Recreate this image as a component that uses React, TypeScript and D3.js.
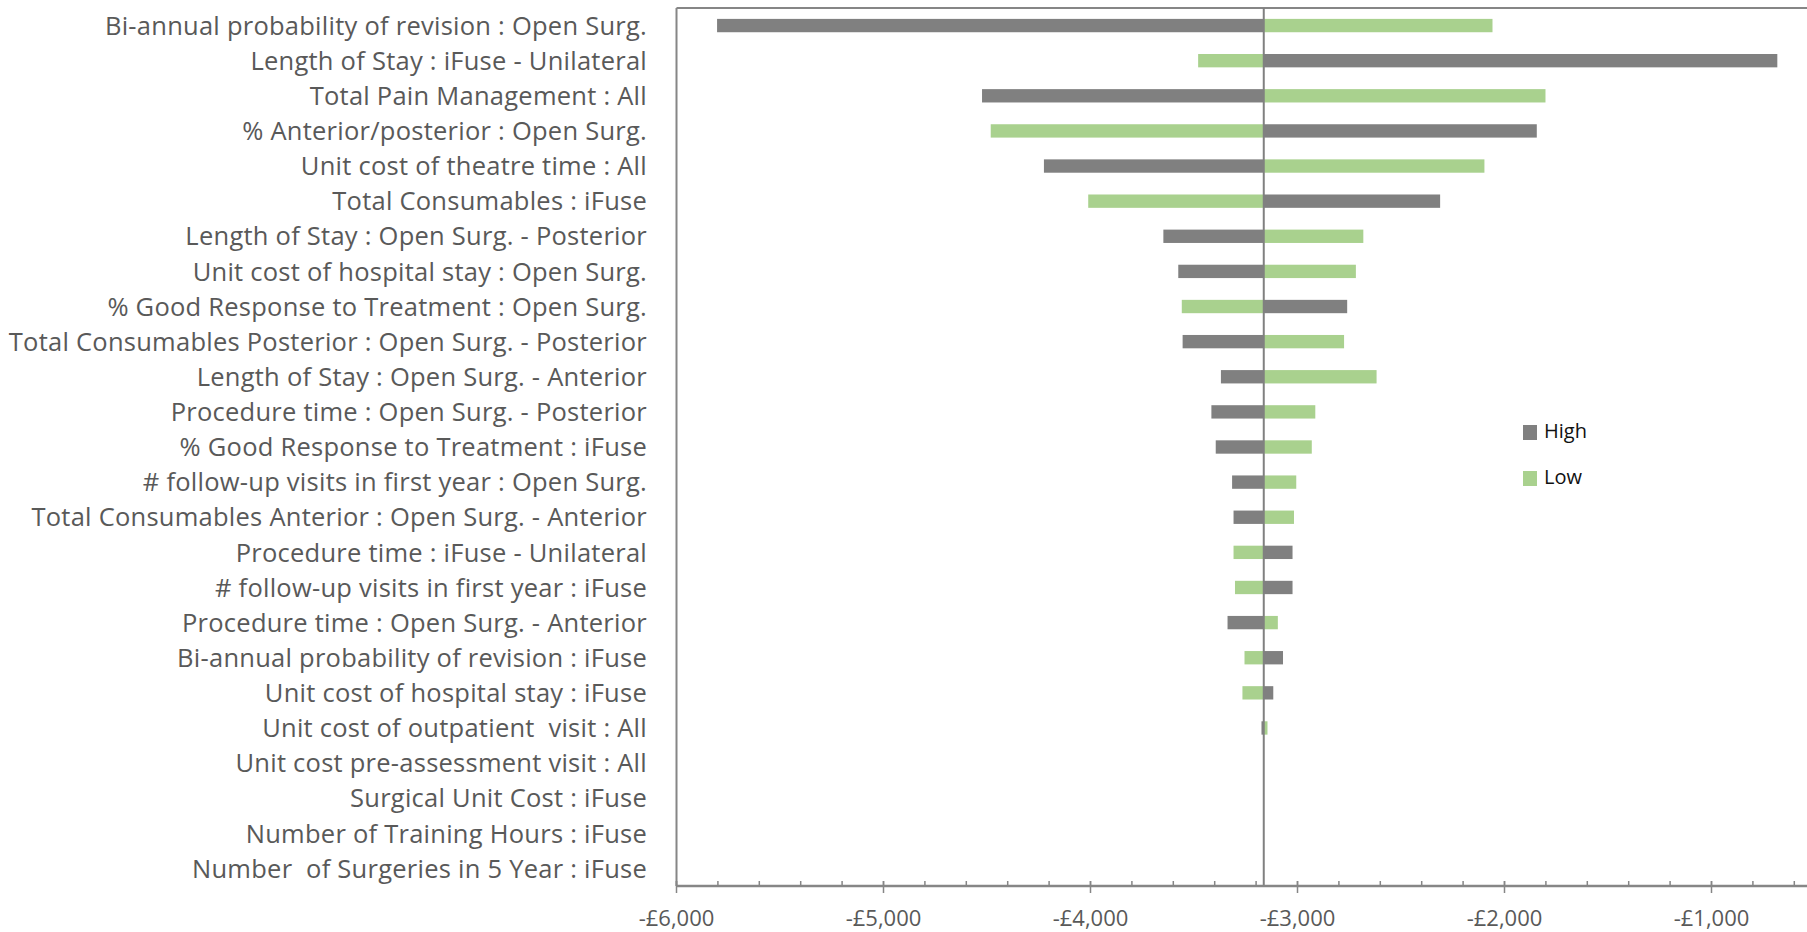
import React from "react";
import * as d3 from "d3";

const categories: string[] = [
  "Bi-annual probability of revision : Open Surg.",
  "Length of Stay : iFuse - Unilateral",
  "Total Pain Management : All",
  "% Anterior/posterior : Open Surg.",
  "Unit cost of theatre time : All",
  "Total Consumables : iFuse",
  "Length of Stay : Open Surg. - Posterior",
  "Unit cost of hospital stay : Open Surg.",
  "% Good Response to Treatment : Open Surg.",
  "Total Consumables Posterior : Open Surg. - Posterior",
  "Length of Stay : Open Surg. - Anterior",
  "Procedure time : Open Surg. - Posterior",
  "% Good Response to Treatment : iFuse",
  "# follow-up visits in first year : Open Surg.",
  "Total Consumables Anterior : Open Surg. - Anterior",
  "Procedure time : iFuse - Unilateral",
  "# follow-up visits in first year : iFuse",
  "Procedure time : Open Surg. - Anterior",
  "Bi-annual probability of revision : iFuse",
  "Unit cost of hospital stay : iFuse",
  "Unit cost of outpatient  visit : All",
  "Unit cost pre-assessment visit : All",
  "Surgical Unit Cost : iFuse",
  "Number of Training Hours : iFuse",
  "Number  of Surgeries in 5 Year : iFuse",
];

const baseValue = -3163;

const highValues: number[] = [
  -5804, -682, -4524, -1844, -4225, -2311, -3648, -3576, -2760, -3555,
  -3370, -3416, -3395, -3316, -3309, -3024, -3024, -3338, -3070, -3117,
  -3174, -3163, -3163, -3163, -3163,
];

const lowValues: number[] = [
  -2058, -3480, -1802, -4482, -2097, -4011, -2682, -2718, -3559, -2775,
  -2618, -2914, -2931, -3006, -3017, -3309, -3302, -3095, -3256, -3266,
  -3145, -3163, -3163, -3163, -3163,
];

const majorTicks: number[] = [-6000, -5000, -4000, -3000, -2000, -1000];
const seriesNames: string[] = ["High", "Low"];

const W = 1807;
const H = 932;
const plotLeft = 676.5;
const plotTop = 8;
const plotBottom = 886;

const GRAY = "#808080";
const GREEN = "#a9d18e";
const AXIS = "#868686";
const TEXT = "#595959";
const FONT = "'Open Sans', Lato, sans-serif";

export default function App() {
  const x = d3.scaleLinear().domain([-6000, -1000]).range([plotLeft, 1711.5]);
  const y = d3
    .scaleBand<string>()
    .domain(categories)
    .range([plotTop, plotBottom])
    .paddingInner(0.62)
    .paddingOuter(0.31);
  const bw = y.bandwidth();
  const rightValue = x.invert(W + 10);
  const minorTicks = d3.range(-6000, rightValue, 200);
  const fmt = (v: number) => "-£" + d3.format(",")(Math.abs(v));

  const bar = (v: number, i: number, color: string, key: string) => {
    const x0 = Math.min(x(v), x(baseValue));
    const x1 = Math.max(x(v), x(baseValue));
    return (
      <rect
        key={key}
        x={x0}
        y={y(categories[i])!}
        width={Math.max(0, x1 - x0)}
        height={bw}
        fill={color}
      />
    );
  };

  return (
    <svg
      width={W}
      height={H}
      style={{ position: "absolute", left: 0, top: 0, background: "#fff", overflow: "hidden" }}
    >
      <rect x={0} y={0} width={W} height={H} fill="#fff" />
      {categories.map((c, i) => (
        <text
          key={"l" + i}
          x={647}
          y={y(c)! + bw / 2}
          dy="0.36em"
          textAnchor="end"
          fontFamily={FONT}
          fontSize={25.5}
          letterSpacing={0.25}
          fill={TEXT}
          style={{ whiteSpace: "pre" }}
        >
          {c}
        </text>
      ))}
      {highValues.map((v, i) => bar(v, i, GRAY, "h" + i))}
      {lowValues.map((v, i) => bar(v, i, GREEN, "g" + i))}
      <line x1={plotLeft} x2={W} y1={plotTop} y2={plotTop} stroke={AXIS} strokeWidth={2} />
      <line x1={plotLeft} x2={plotLeft} y1={plotTop} y2={plotBottom} stroke={AXIS} strokeWidth={2} />
      <line
        x1={x(baseValue)}
        x2={x(baseValue)}
        y1={plotTop}
        y2={plotBottom}
        stroke={GRAY}
        strokeWidth={2}
      />
      <line x1={plotLeft} x2={W} y1={plotBottom} y2={plotBottom} stroke={AXIS} strokeWidth={2.5} />
      {minorTicks.map((t) => (
        <line key={"m" + t} x1={x(t)} x2={x(t)} y1={plotBottom - 5} y2={plotBottom} stroke={AXIS} strokeWidth={1.5} />
      ))}
      {majorTicks.map((t) => (
        <g key={"t" + t}>
          <line x1={x(t)} x2={x(t)} y1={plotBottom - 5} y2={plotBottom + 7} stroke={AXIS} strokeWidth={1.5} />
          <text x={x(t)} y={926} textAnchor="middle" fontFamily={FONT} fontSize={22} fill={TEXT}>
            {fmt(t)}
          </text>
        </g>
      ))}
      {seriesNames.map((s, i) => (
        <g key={"lg" + s} transform={`translate(1523, ${425 + i * 46})`}>
          <rect x={0} y={0} width={14} height={15} fill={i === 0 ? GRAY : GREEN} />
          <text x={21} y={13} fontFamily={FONT} fontSize={20} fill="#111">
            {s}
          </text>
        </g>
      ))}
    </svg>
  );
}
